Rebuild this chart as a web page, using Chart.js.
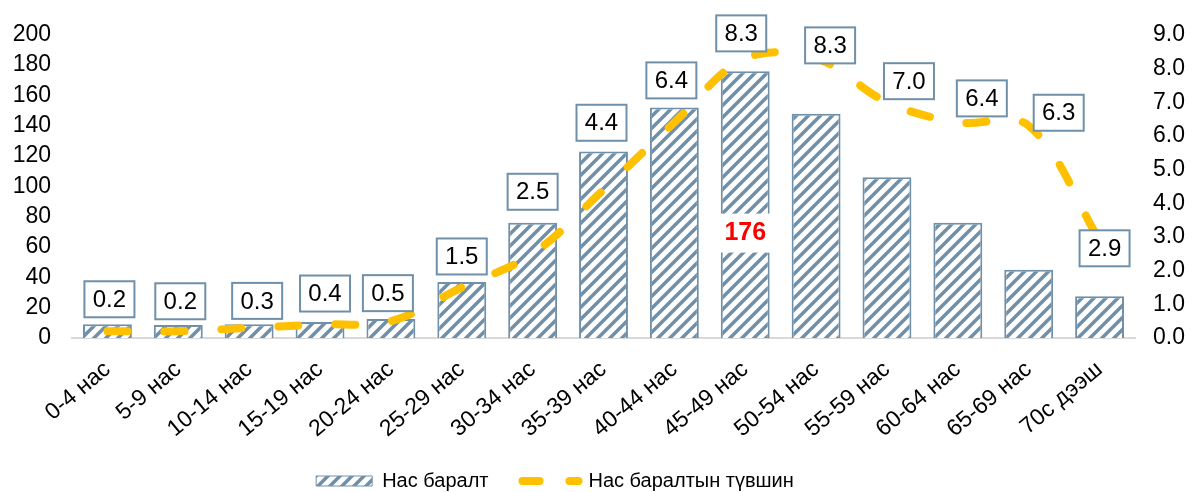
<!DOCTYPE html>
<html>
<head>
<meta charset="utf-8">
<script src="https://cdn.jsdelivr.net/npm/chart.js@4"></script>
<style>
  body { margin: 0; background: #fff; }
  #wrap { width: 1192px; height: 492px; }
</style>
</head>
<body>
<div id="wrap"><canvas id="grafico" width="1192" height="492"></canvas></div>
<script>
// age groups and values
const categorias = ['0-4 нас', '5-9 нас', '10-14 нас', '15-19 нас', '20-24 нас', '25-29 нас', '30-34 нас',
    '35-39 нас', '40-44 нас', '45-49 нас', '50-54 нас', '55-59 нас', '60-64 нас', '65-69 нас', '70с дээш'];
const nasBaralt = [9, 8.5, 9, 10.5, 12.5, 37, 76, 123, 152, 176, 148, 106, 76, 45, 27.5];
const tuvshin = [0.2, 0.2, 0.3, 0.4, 0.5, 1.5, 2.5, 4.4, 6.4, 8.3, 8.3, 7.0, 6.4, 6.3, 2.9];

// where each value box sits relative to its point (dx, dy)
const labelOffsets = [[2, -32], [2, -30], [8, -27], [5, -31], [-3, -28], [0, -31], [0, -62], [-2, -67],
    [-3, -42], [-4, -25], [14, -13], [22, -21], [24, -24], [30, -13], [5, 8]];

const blueGray = '#7090a9';
const yellow = '#ffc000';
const fontFamily = '"Liberation Sans", Arial, sans-serif';

function hatch(color) {
    const s = 12;
    const c = document.createElement('canvas');
    c.width = s; c.height = s;
    const g = c.getContext('2d');
    g.fillStyle = '#fff';
    g.fillRect(0, 0, s, s);
    g.strokeStyle = color;
    g.lineWidth = 3.5;
    g.beginPath();
    g.moveTo(-3, s + 3); g.lineTo(s + 3, -3);
    g.moveTo(-3, 3); g.lineTo(3, -3);
    g.moveTo(s - 3, s + 3); g.lineTo(s + 3, s - 3);
    g.stroke();
    return g.createPattern(c, 'repeat');
}

const pattern = hatch(blueGray);

const etiketka = {
    id: 'etiketka',
    afterLayout(chart) {
        // legend sits a little left of centre
        chart.legend.left -= 41;
        chart.legend.right -= 41;
    },
    afterDatasetsDraw(chart) {
        const ctx = chart.ctx;
        ctx.save();

        // value of the tallest bar, inside the bar
        const bars = chart.getDatasetMeta(1).data;
        let iMax = 0;
        nasBaralt.forEach((v, i) => { if (v > nasBaralt[iMax]) iMax = i; });
        const b = bars[iMax];
        const by = b.base - (b.base - b.y) * 0.395;
        ctx.fillStyle = '#fff';
        ctx.fillRect(b.x - b.width / 2 - 1, by - 19, b.width + 2, 39);
        ctx.fillStyle = '#ff0000';
        ctx.font = 'bold 25px ' + fontFamily;
        ctx.textAlign = 'center';
        ctx.textBaseline = 'middle';
        ctx.fillText(String(nasBaralt[iMax]), b.x, by + 1);

        // boxed rate labels
        const pts = chart.getDatasetMeta(0).data;
        ctx.font = '24px ' + fontFamily;
        pts.forEach((p, i) => {
            const cx = p.x + labelOffsets[i][0];
            const cy = p.y + labelOffsets[i][1];
            const w = 50, h = 36;
            ctx.fillStyle = '#fff';
            ctx.fillRect(cx - w / 2, cy - h / 2, w, h);
            ctx.strokeStyle = blueGray;
            ctx.lineWidth = 2;
            ctx.strokeRect(cx - w / 2, cy - h / 2, w, h);
            ctx.fillStyle = '#000';
            ctx.fillText(tuvshin[i].toFixed(1), cx, cy + 1);
        });
        ctx.restore();
    }
};

const ctx = document.getElementById('grafico').getContext('2d');

new Chart(ctx, {
    type: 'bar',
    data: {
        labels: categorias,
        datasets: [{
            type: 'line',
            label: 'Нас баралтын түвшин',
            data: tuvshin,
            yAxisID: 'y1',
            borderColor: yellow,
            borderWidth: 8,
            borderDash: [20, 37],
            borderCapStyle: 'round',
            tension: 0.35,
            pointRadius: 0,
            fill: false
        }, {
            label: 'Нас баралт',
            data: nasBaralt,
            yAxisID: 'y',
            backgroundColor: pattern,
            borderColor: blueGray,
            borderWidth: 2,
            barPercentage: 0.69,
            categoryPercentage: 1
        }]
    },
    options: {
        responsive: false,
        animation: false,
        layout: { padding: { top: 31, left: 0, right: 0, bottom: -9 } },
        plugins: {
            tooltip: { enabled: false },
            legend: {
                position: 'bottom',
                labels: {
                    usePointStyle: true,
                    pointStyleWidth: 56,
                    boxWidth: 56,
                    boxHeight: 10,
                    padding: 34,
                    color: '#000',
                    font: { family: fontFamily, size: 20 },
                    generateLabels() {
                        return [{
                            text: 'Нас баралт',
                            pointStyle: 'rect',
                            fillStyle: pattern,
                            strokeStyle: blueGray,
                            lineWidth: 1,
                            datasetIndex: 1
                        }, {
                            text: 'Нас баралтын түвшин',
                            pointStyle: 'line',
                            fillStyle: yellow,
                            strokeStyle: yellow,
                            lineWidth: 8,
                            lineCap: 'round',
                            lineDash: [17, 30],
                            datasetIndex: 0
                        }];
                    }
                }
            }
        },
        scales: {
            x: {
                grid: { display: false },
                border: { display: true, color: '#d9d9d9', width: 2 },
                ticks: {
                    color: '#000',
                    font: { family: fontFamily, size: 23 },
                    minRotation: 40,
                    maxRotation: 40,
                    padding: 10
                },
                afterFit(scale) { scale.height = 99; }
            },
            y: {
                position: 'left',
                min: 0,
                max: 200,
                grid: { display: false, drawTicks: false },
                border: { display: false },
                ticks: {
                    stepSize: 20,
                    autoSkip: false,
                    color: '#000',
                    font: { family: fontFamily, size: 23 },
                    padding: 21
                },
                afterFit(scale) { scale.width = 72; }
            },
            y1: {
                position: 'right',
                min: 0,
                max: 9,
                grid: { display: false, drawTicks: false },
                border: { display: false },
                ticks: {
                    stepSize: 1,
                    autoSkip: false,
                    color: '#000',
                    font: { family: fontFamily, size: 23 },
                    padding: 18,
                    callback: v => v.toFixed(1)
                },
                afterFit(scale) { scale.width = 57; }
            }
        }
    },
    plugins: [etiketka]
});
</script>
</body>
</html>
